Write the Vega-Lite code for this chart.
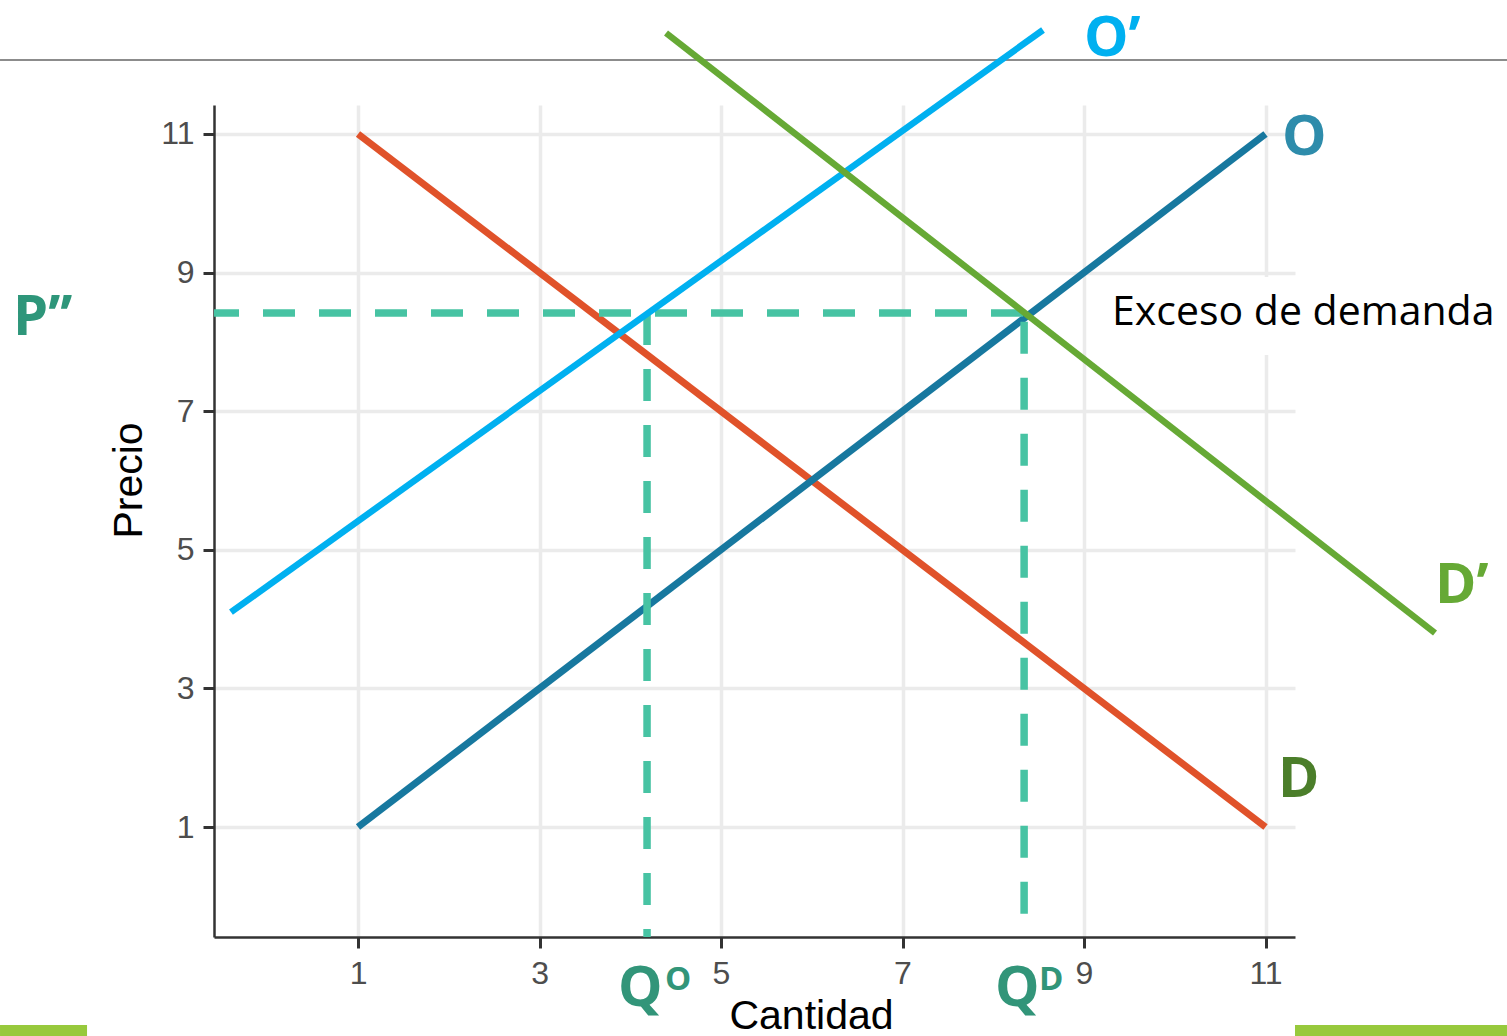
{
  "$schema": "https://vega.github.io/schema/vega-lite/v6.json",
  "width": 1081,
  "height": 832,
  "autosize": {"type": "none"},
  "padding": {"left": 214, "top": 105, "right": 212, "bottom": 99},
  "background": "white",
  "config": {
    "view": {"stroke": null},
    "axis": {
      "grid": true,
      "gridColor": "#ebebeb",
      "gridWidth": 3.5,
      "domainColor": "#333333",
      "domainWidth": 2.5,
      "tickColor": "#333333",
      "tickWidth": 3,
      "tickSize": 11,
      "labelFont": "Liberation Sans",
      "labelFontSize": 32,
      "labelColor": "#4d4d4d",
      "titleFont": "Liberation Sans",
      "titleFontSize": 41,
      "titleFontWeight": "normal",
      "titleColor": "#000000",
      "format": "d"
    },
    "axisX": {"labelPadding": 10, "titleX": 597, "titleY": 91, "titleBaseline": "alphabetic", "titleAlign": "center", "labelFlush": false},
    "axisY": {"labelPadding": 9, "titleX": -73, "titleY": 375, "titleBaseline": "alphabetic", "titleAlign": "center", "titleAngle": -90, "labelFlush": false}
  },
  "datasets": {
    "box": [{"xa": 9.174, "xb": 13.661, "ya": 8.937, "yb": 7.811}],
    "curves": [
      {"s": "D", "xa": 1, "ya": 11, "xb": 11, "yb": 1},
      {"s": "O", "xa": 1, "ya": 1, "xb": 11, "yb": 11},
      {"s": "O’", "xa": -0.4, "ya": 4.10, "xb": 8.548, "yb": 12.50},
      {"s": "D’", "xa": 4.394, "ya": 12.457, "xb": 12.868, "yb": 3.80}
    ],
    "hdash": [{"xa": -0.587, "xb": 8.35, "y": 8.417}],
    "vdash": [
      {"x": 4.185, "ya": 8.417, "yb": -0.587},
      {"x": 8.34, "ya": -0.25, "yb": 8.417}
    ],
    "toprule": [{"xa": -2.945, "xb": 13.661, "y": 12.068}],
    "bars": [
      {"xa": -2.945, "xb": -1.986, "ya": -1.857, "yb": -2.03},
      {"xa": 11.325, "xb": 13.661, "ya": -1.857, "yb": -2.03}
    ],
    "labels": [
      {"id": "O’", "t": "O’", "x": 9.0, "y": 12.12},
      {"id": "O", "t": "O", "x": 11.182, "y": 10.697},
      {"id": "P’’", "t": "P’’", "x": -2.802, "y": 8.1},
      {"id": "D’", "t": "D’", "x": 12.868, "y": 4.232},
      {"id": "D", "t": "D", "x": 11.138, "y": 1.433},
      {"id": "QO", "t": "Q", "x": 3.865, "y": -1.583},
      {"id": "QD", "t": "Q", "x": 8.019, "y": -1.583}
    ],
    "sups": [
      {"id": "sO", "t": "O", "x": 4.383, "y": -1.352},
      {"id": "sD", "t": "D", "x": 8.504, "y": -1.352}
    ],
    "note": [{"t": "Exceso de demanda", "x": 9.309, "y": 8.244}]
  },
  "layer": [
    {
      "data": {"name": "box"},
      "mark": {"type": "rect", "fill": "white"},
      "encoding": {
        "x": {"field": "xa", "type": "quantitative", "title": "Cantidad", "scale": {"domain": [-0.587, 11.325], "nice": false, "zero": false}, "axis": {"values": [1, 3, 5, 7, 9, 11], "format": "d"}},
        "x2": {"field": "xb"},
        "y": {"field": "ya", "type": "quantitative", "title": "Precio", "scale": {"domain": [-0.587, 11.418], "nice": false, "zero": false}, "axis": {"values": [1, 3, 5, 7, 9, 11], "format": "d"}},
        "y2": {"field": "yb"}
      }
    },
    {
      "data": {"name": "toprule"},
      "mark": {"type": "rule", "stroke": "#8c8c8c", "strokeWidth": 2},
      "encoding": {
        "x": {"field": "xa", "type": "quantitative", "title": "Cantidad"},
        "x2": {"field": "xb"},
        "y": {"field": "y", "type": "quantitative", "title": "Precio"}
      }
    },
    {
      "data": {"name": "bars"},
      "mark": {"type": "rect", "fill": "#97c93c"},
      "encoding": {
        "x": {"field": "xa", "type": "quantitative", "title": "Cantidad"},
        "x2": {"field": "xb"},
        "y": {"field": "ya", "type": "quantitative", "title": "Precio"},
        "y2": {"field": "yb"}
      }
    },
    {
      "data": {"name": "curves"},
      "transform": [{"filter": "datum.s === 'D' || datum.s === 'O'"}],
      "mark": {"type": "rule", "strokeWidth": 7, "strokeCap": "butt"},
      "encoding": {
        "x": {"field": "xa", "type": "quantitative", "title": "Cantidad"},
        "x2": {"field": "xb"},
        "y": {"field": "ya", "type": "quantitative", "title": "Precio"},
        "y2": {"field": "yb"},
        "stroke": {"field": "s", "type": "nominal", "legend": null, "scale": {"domain": ["D", "O", "O’", "D’"], "range": ["#e0522a", "#17789f", "#00b0f0", "#66a935"]}}
      }
    },
    {
      "data": {"name": "hdash"},
      "mark": {"type": "rule", "stroke": "#47c3a3", "strokeWidth": 7.5, "strokeDash": [32, 24], "strokeDashOffset": 7},
      "encoding": {
        "x": {"field": "xa", "type": "quantitative", "title": "Cantidad"},
        "x2": {"field": "xb"},
        "y": {"field": "y", "type": "quantitative", "title": "Precio"}
      }
    },
    {
      "data": {"name": "vdash"},
      "mark": {"type": "rule", "stroke": "#47c3a3", "strokeWidth": 7.5, "strokeDash": [32, 24]},
      "encoding": {
        "x": {"field": "x", "type": "quantitative", "title": "Cantidad"},
        "y": {"field": "ya", "type": "quantitative", "title": "Precio"},
        "y2": {"field": "yb"}
      }
    },
    {
      "data": {"name": "curves"},
      "transform": [{"filter": "datum.s === 'O’' || datum.s === 'D’'"}],
      "mark": {"type": "rule", "strokeWidth": 6.5, "strokeCap": "butt"},
      "encoding": {
        "x": {"field": "xa", "type": "quantitative", "title": "Cantidad"},
        "x2": {"field": "xb"},
        "y": {"field": "ya", "type": "quantitative", "title": "Precio"},
        "y2": {"field": "yb"},
        "stroke": {"field": "s", "type": "nominal", "legend": null}
      }
    },
    {
      "data": {"name": "labels"},
      "mark": {"type": "text", "font": "Open Sans", "fontWeight": "bold", "fontSize": 56, "align": "left", "baseline": "alphabetic"},
      "encoding": {
        "x": {"field": "x", "type": "quantitative", "title": "Cantidad"},
        "y": {"field": "y", "type": "quantitative", "title": "Precio"},
        "text": {"field": "t"},
        "fill": {"field": "id", "type": "nominal", "legend": null, "scale": {"domain": ["O’", "O", "P’’", "D’", "D", "QO", "QD", "sO", "sD"], "range": ["#00b0f0", "#2e8cab", "#2e967a", "#66a935", "#4b7e2a", "#329579", "#329579", "#329579", "#329579"]}}
      }
    },
    {
      "data": {"name": "sups"},
      "mark": {"type": "text", "font": "Open Sans", "fontWeight": "bold", "fontSize": 33, "align": "left", "baseline": "alphabetic"},
      "encoding": {
        "x": {"field": "x", "type": "quantitative", "title": "Cantidad"},
        "y": {"field": "y", "type": "quantitative", "title": "Precio"},
        "text": {"field": "t"},
        "fill": {"field": "id", "type": "nominal", "legend": null}
      }
    },
    {
      "data": {"name": "note"},
      "mark": {"type": "text", "font": "Open Sans", "fontSize": 41, "align": "left", "baseline": "alphabetic", "fill": "#000000"},
      "encoding": {
        "x": {"field": "x", "type": "quantitative", "title": "Cantidad"},
        "y": {"field": "y", "type": "quantitative", "title": "Precio"},
        "text": {"field": "t"}
      }
    }
  ]
}
